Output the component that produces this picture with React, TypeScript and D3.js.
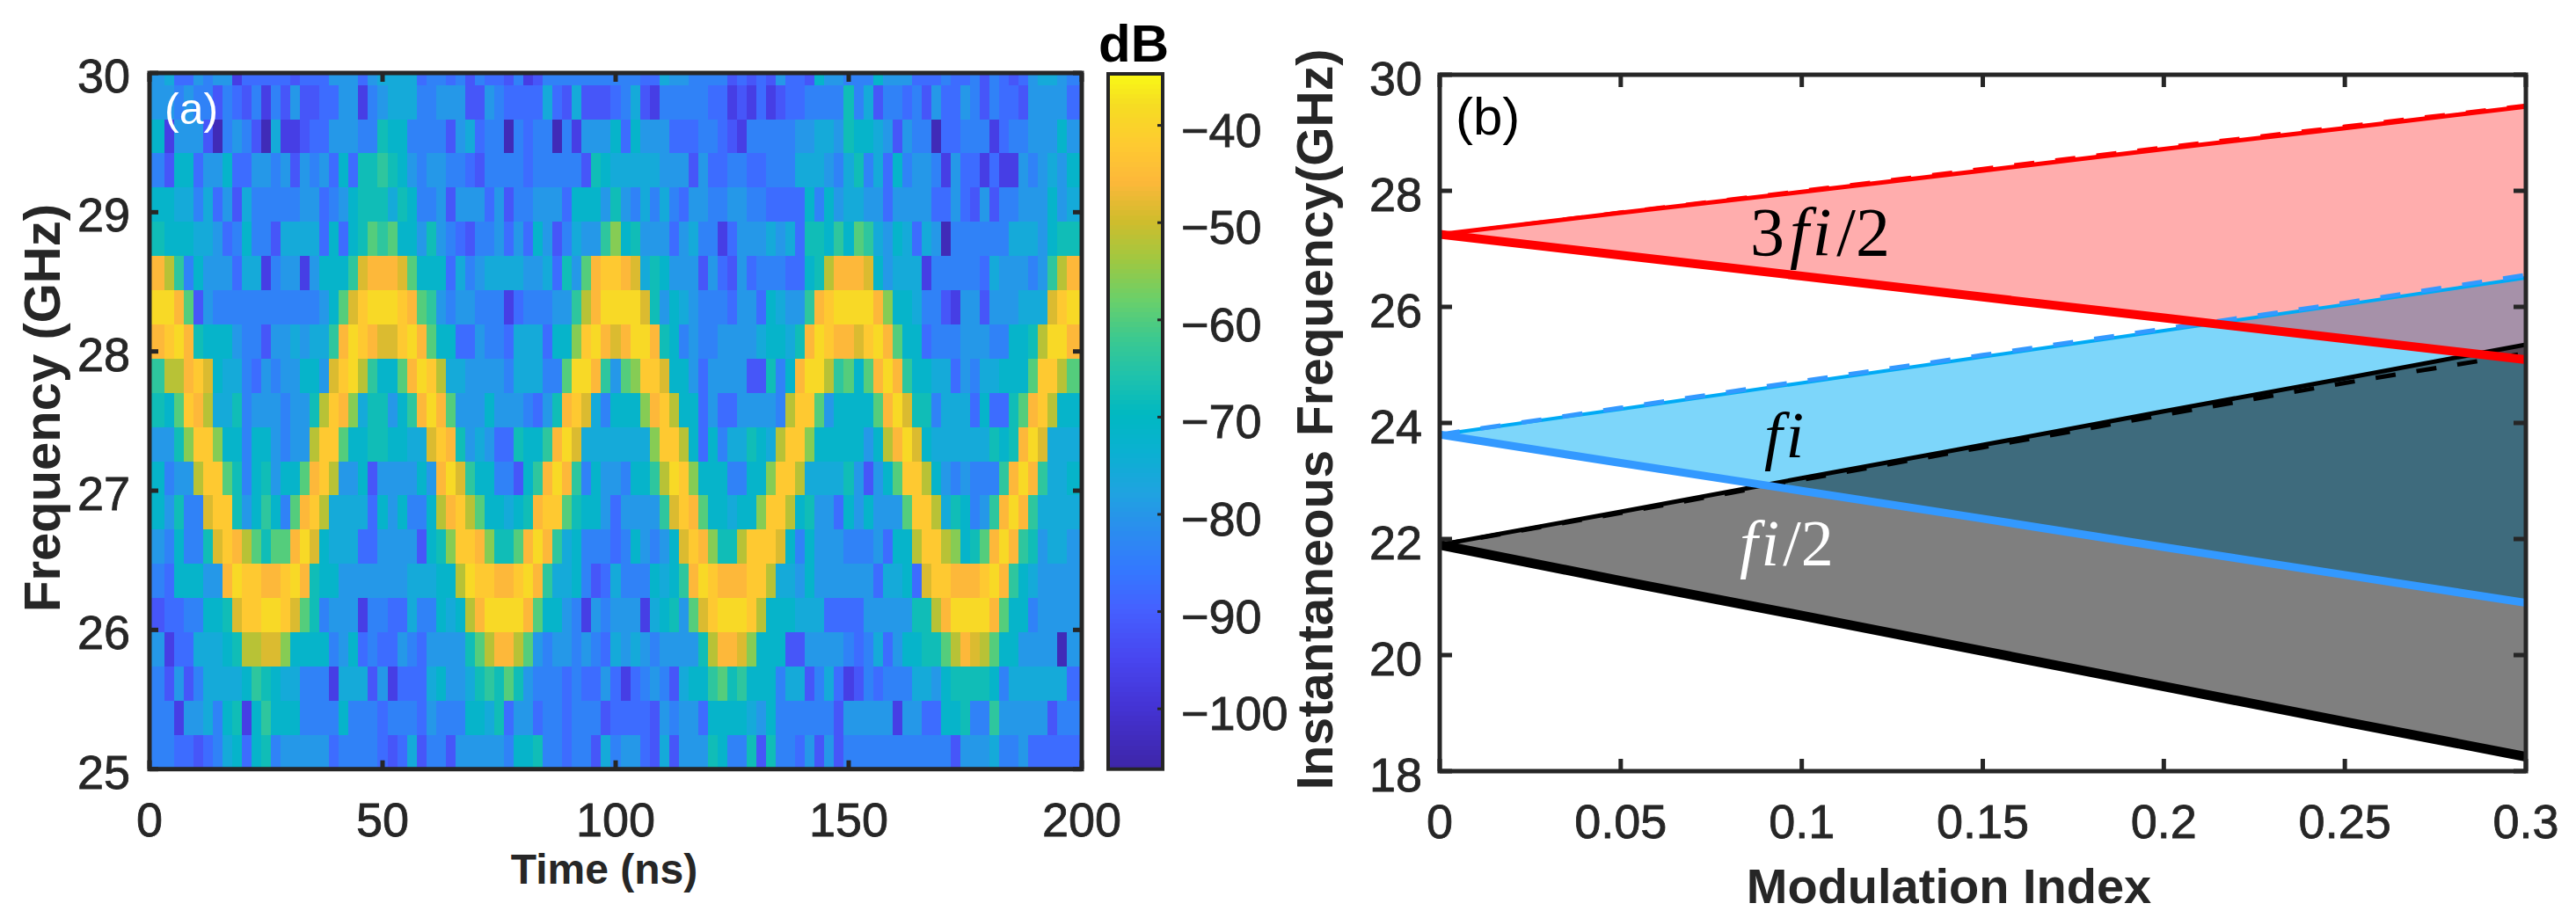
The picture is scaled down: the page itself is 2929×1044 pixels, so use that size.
import React from "react";
import * as d3 from "d3";

// ---------- panel (a) data: one string per frequency row, top to bottom ----------
const heatRows: string[] = [
  "563354551333332333555356666344342433241244444446" + "444336554444232325332755444755533343342432356654",
  "554544243241425223355145666445552254333363262224" + "346214444433121312334444846244342533542433255553",
  "715552045420611233555448774444256344043440415557" + "737555333443214444455665877652544033444134455575",
  "427735573355452545373889875455443244443444442873" + "666665552533443344466654684637455415331311545657",
  "776646352644444553457888687445255535244555377757" + "854646435544554433337475665535555335325244555756",
  "87776653474426666373" + "78a9a77585" + "4324453537" + "5246559b" + "b785553564413555656388797a96576365044444" + "46665788",
  "ec947555366145515777" + "9deeeda777" + "3645666655" + "6385aeff" + "fed68755525325344433" + "78ceeed756" + "6614444436" + "555459ce",
  "ggea254444444444457a" + "dfgggfea95" + "4554441344" + "4559cegg" + "gggd8576544435537655" + "9efggggeb7" + "7644215525" + "55666dfg",
  "efge877754425565669e" + "gfeddfgea7" + "7335443666" + "377bfged" + "degge874544555567768" + "egfeedfgea" + "7734445554" + "4778cgge",
  "9ccefd766435455775df" + "gc977aegfc" + "6655554666" + "44agge98" + "5abffd7753555522847e" + "ggc9a7aege" + "9776635466" + "777affca",
  "87afec66845554558cfe" + "b688579ege" + "a555755543" + "58efd646" + "777befc77353355554cf" + "fa57777aeg" + "d884666373" + "38aefc77",
  "558bffb774775455cffa" + "77887766df" + "e856533877" + "9egd6663" + "6666bffc737466876cff" + "b7777757ce" + "gd76666668" + "78egd666",
  "7455cffa8478577aefc5" + "572555575e" + "gd97744279" + "ege94754" + "54779cgfb7774477bffc" + "666685257a" + "ffc7545444" + "9ege9667",
  "75844dff857974aefc66" + "663757447c" + "efca77678e" + "ffa87753" + "355559dfea77677bffc7" + "8553757555" + "affc687459" + "ege96666",
  "547448dfeca8aaegd766" + "6335555278" + "bffeb88aeg" + "e9674446" + "3475457dfeb88cfffd74" + "7555444537" + "7cffcb78ae" + "ge985665",
  "4377755egffeefge8775" + "5555556667" + "7cgffeefge" + "96674236" + "64447679egfeeeffc665" + "7555555366" + "73dffeeefg" + "e9765555",
  "23344778dffggfda8455" + "5144336447" + "67ceggggea" + "77541544" + "55516785adfgggfc7776" + "6633335555" + "588cegggge" + "a7745555",
  "513366678ccddb777745" + "7343354355" + "558aceeca5" + "45545435" + "6565455558ceedb77722" + "5555434635" + "7788acedca" + "77555505",
  "42524666679876644416" + "6625133367" + "556898a854" + "44343353" + "31345426779a89777466" + "2463124344" + "4665788887" + "46666663",
  "44155647817977744447" + "4443444354" + "4477683553" + "44344424" + "33332545537777657444" + "4442555551" + "5533778449" + "55555244",
  "44332346737845555534" + "4443236244" + "2555554778" + "44344264" + "45532625558744828443" + "5252444444" + "4444425556" + "44533333",
];
const levelChars = "0123456789abcdefgh";
const levelDb = [-104, -97, -92, -88, -84, -80, -76, -72, -68, -64, -60, -56, -52, -49, -46, -42.5, -39, -36];
const timeTicks = [0, 50, 100, 150, 200];
const freqTicks = [25, 26, 27, 28, 29, 30];
const cbarTicks = [-40, -50, -60, -70, -80, -90, -100];
const colorDb = [-106.2, -100, -95, -90, -86, -82, -78, -74, -70, -66, -62, -58, -54, -50, -46, -42, -38, -34.7];
const colorHex = ["#3e26a8", "#4433d4", "#4846f0", "#4560ff", "#3478ff", "#2b8cef", "#1fa3e0", "#0bb0d2", "#00b8c2", "#1fc2ac", "#3cc98f", "#6cd068", "#a0c840", "#d0bc2c", "#fdb83a", "#fecb30", "#f6dd22", "#f9fb15"];

// ---------- panel (b) data ----------
const modIndex = [0, 0.05, 0.1, 0.15, 0.2, 0.25, 0.3];
const redUpper = [27.25, 27.62, 27.98, 28.35, 28.72, 29.08, 29.45];
const redUpperDash = [27.25, 27.64, 28.01, 28.39, 28.76, 29.12, 29.48];
const redLower = [27.25, 26.89, 26.53, 26.17, 25.81, 25.45, 25.09];
const blueUpper = [23.8, 24.24, 24.69, 25.14, 25.59, 26.04, 26.5];
const blueUpperDash = [23.8, 24.26, 24.72, 25.17, 25.62, 26.07, 26.55];
const blueLower = [23.8, 23.31, 22.83, 22.35, 21.86, 21.38, 20.9];
const blackUpper = [21.9, 22.47, 23.05, 23.62, 24.2, 24.77, 25.35];
const blackUpperDash = [21.9, 22.45, 23.02, 23.58, 24.14, 24.69, 25.2];
const blackLower = [21.9, 21.28, 20.68, 20.07, 19.46, 18.85, 18.25];
const modTicks = [0, 0.05, 0.1, 0.15, 0.2, 0.25, 0.3];
const modLabels = ["0", "0.05", "0.1", "0.15", "0.2", "0.25", "0.3"];
const instTicks = [18, 20, 22, 24, 26, 28, 30];

const INK = "#262626";
const SANS = "'Liberation Sans', Arial, sans-serif";
const SERIF = "'Liberation Serif', 'Times New Roman', serif";

const colorOf = d3.scaleLinear<string>().domain(colorDb).range(colorHex).interpolate(d3.interpolateRgb).clamp(true);

const ax = { l: 170, r: 1230, t: 83, b: 874.7 };
const xA = d3.scaleLinear().domain([0, 200]).range([ax.l, ax.r]);
const yA = d3.scaleLinear().domain([25, 30]).range([ax.b, ax.t]);
const cb = { l: 1260, r: 1322, t: 84, b: 874.7 };
const yC = d3.scaleLinear().domain([-106.2, -34.7]).range([cb.b, cb.t]);
const bx = { l: 1637, r: 2872, t: 85, b: 877 };
const xB = d3.scaleLinear().domain([0, 0.3]).range([bx.l, bx.r]);
const yB = d3.scaleLinear().domain([18, 30]).range([bx.b, bx.t]);

const tStep = 200 / 96;
const fStep = 0.2457;

// column j (0..96) of a row string
function charAt(row: string, j: number): string {
  if (j === 0) return row[0];
  if (j <= 47) return row[j - 1];
  if (j <= 95) return row[j];
  return row[95];
}

function lineOf(vals: number[]): string {
  return d3.line<number>().x((_, i) => xB(modIndex[i])).y((v) => yB(v))(vals) as string;
}
function bandOf(up: number[], lo: number[]): string {
  return d3
    .area<number>()
    .x((_, i) => xB(modIndex[i]))
    .y0((_, i) => yB(lo[i]))
    .y1((v) => yB(v))(up) as string;
}

const Cells: React.FC = () => (
  <g clipPath="url(#clipA)" shapeRendering="crispEdges">
    {heatRows.map((row, t) => {
      const f0 = 25 + (20 - t) * fStep;
      const y1 = yA(f0 + fStep);
      const y0 = yA(f0);
      return d3.range(97).map((j) => {
        const db = levelDb[levelChars.indexOf(charAt(row, j))];
        const x0 = xA((j - 0.5) * tStep);
        const x1 = xA((j + 0.5) * tStep);
        return <rect key={t + "-" + j} x={x0} y={y1} width={x1 - x0 + 0.4} height={y0 - y1 + 0.4} fill={colorOf(db)} />;
      });
    })}
  </g>
);

export default function App() {
  const cbSteps = d3.range(-106.2, -34.7, 0.5);
  return (
    <svg width={2929} height={1044} viewBox="0 0 2929 1044" style={{ position: "absolute", left: 0, top: 0, display: "block", background: "#fff" }}>
      <defs>
        <clipPath id="clipA"><rect x={ax.l} y={ax.t} width={ax.r - ax.l} height={ax.b - ax.t} /></clipPath>
        <clipPath id="clipB"><rect x={bx.l} y={bx.t} width={bx.r - bx.l} height={bx.b - bx.t} /></clipPath>
      </defs>

      {/* panel (a) */}
      <Cells />
      <rect x={ax.l} y={ax.t} width={ax.r - ax.l} height={ax.b - ax.t} fill="none" stroke={INK} strokeWidth={5} />
      {timeTicks.map((t) => (
        <g key={t}>
          <line x1={xA(t)} x2={xA(t)} y1={ax.b} y2={ax.b - 10} stroke={INK} strokeWidth={5} />
          <line x1={xA(t)} x2={xA(t)} y1={ax.t} y2={ax.t + 10} stroke={INK} strokeWidth={5} />
          <text x={xA(t)} y={951} textAnchor="middle" fontFamily={SANS} fontSize={54} fill={INK} stroke={INK} strokeWidth={0.8}>{t}</text>
        </g>
      ))}
      {freqTicks.map((f) => (
        <g key={f}>
          <line x1={ax.l} x2={ax.l + 10} y1={yA(f)} y2={yA(f)} stroke={INK} strokeWidth={5} />
          <line x1={ax.r} x2={ax.r - 10} y1={yA(f)} y2={yA(f)} stroke={INK} strokeWidth={5} />
          <text x={148} y={yA(f) + 22} textAnchor="end" fontFamily={SANS} fontSize={54} fill={INK} stroke={INK} strokeWidth={0.8}>{f}</text>
        </g>
      ))}
      <text x={187} y={141} fontFamily={SANS} fontSize={50} fill="#fff">(a)</text>
      <text transform={`translate(68,${464}) rotate(-90)`} textAnchor="middle" fontFamily={SANS} fontWeight="bold" fontSize={58} fill={INK}>Frequency (GHz)</text>
      <text x={687} y={1005} textAnchor="middle" fontFamily={SANS} fontWeight="bold" fontSize={48} fill={INK}>Time (ns)</text>

      {/* colour bar */}
      <g shapeRendering="crispEdges">
        {cbSteps.map((d) => (
          <rect key={d} x={cb.l} y={yC(d + 0.5)} width={cb.r - cb.l} height={yC(d) - yC(d + 0.5) + 0.5} fill={colorOf(d)} />
        ))}
      </g>
      <rect x={cb.l} y={cb.t} width={cb.r - cb.l} height={cb.b - cb.t} fill="none" stroke={INK} strokeWidth={4} />
      {cbarTicks.map((d) => (
        <g key={d}>
          <line x1={cb.r - 6} x2={cb.r} y1={yC(d)} y2={yC(d)} stroke={INK} strokeWidth={3} />
          <text x={1343} y={yC(d) + 24} fontFamily={SANS} fontSize={54} fill={INK} stroke={INK} strokeWidth={0.8}>{"\u2212" + Math.abs(d)}</text>
        </g>
      ))}
      <text x={1249} y={70} fontFamily={SANS} fontWeight="bold" fontSize={60} fill="#000">dB</text>

      {/* panel (b) */}
      <g clipPath="url(#clipB)">
        <path d={bandOf(blueUpper, blueLower)} fill="#7dd6fa" />
        <path d={bandOf(redUpper, redLower)} fill="#ff0000" fillOpacity={0.32} />
        <path d={bandOf(blackUpper, blackLower)} fill="#000" fillOpacity={0.5} />
        <path d={lineOf(blackUpper)} fill="none" stroke="#000" strokeWidth={5} />
        <path d={lineOf(blackUpperDash)} fill="none" stroke="#000" strokeWidth={5} strokeDasharray="23 24" />
        <path d={lineOf(blackLower)} fill="none" stroke="#000" strokeWidth={11} />
        <path d={lineOf(blueUpper)} fill="none" stroke="#00aaf5" strokeWidth={4} />
        <path d={lineOf(blueUpperDash)} fill="none" stroke="#3399ff" strokeWidth={5} strokeDasharray="23 24" />
        <path d={lineOf(blueLower)} fill="none" stroke="#3399ff" strokeWidth={9} />
        <path d={lineOf(redUpper)} fill="none" stroke="#ff0000" strokeWidth={5} />
        <path d={lineOf(redUpperDash)} fill="none" stroke="#ff0000" strokeWidth={3} strokeDasharray="23 24" />
        <path d={lineOf(redLower)} fill="none" stroke="#ff0000" strokeWidth={10} />
      </g>
      <rect x={bx.l} y={bx.t} width={bx.r - bx.l} height={bx.b - bx.t} fill="none" stroke={INK} strokeWidth={5} />
      {modTicks.map((m, i) => (
        <g key={m}>
          <line x1={xB(m)} x2={xB(m)} y1={bx.b} y2={bx.b - 14} stroke={INK} strokeWidth={5} />
          <line x1={xB(m)} x2={xB(m)} y1={bx.t} y2={bx.t + 14} stroke={INK} strokeWidth={5} />
          <text x={xB(m)} y={953} textAnchor="middle" fontFamily={SANS} fontSize={54} fill={INK} stroke={INK} strokeWidth={0.8}>{modLabels[i]}</text>
        </g>
      ))}
      {instTicks.map((f) => (
        <g key={f}>
          <line x1={bx.l} x2={bx.l + 14} y1={yB(f)} y2={yB(f)} stroke={INK} strokeWidth={5} />
          <line x1={bx.r} x2={bx.r - 14} y1={yB(f)} y2={yB(f)} stroke={INK} strokeWidth={5} />
          <text x={1617} y={yB(f) + 23} textAnchor="end" fontFamily={SANS} fontSize={54} fill={INK} stroke={INK} strokeWidth={0.8}>{f}</text>
        </g>
      ))}
      <text x={1655} y={153} fontFamily={SANS} fontSize={60} fill="#000">(b)</text>
      <text transform={`translate(1515,${477}) rotate(-90)`} textAnchor="middle" fontFamily={SANS} fontWeight="bold" fontSize={57} fill={INK}>Instantaneous Frequency(GHz)</text>
      <text x={2216} y={1027} textAnchor="middle" fontFamily={SANS} fontWeight="bold" fontSize={56} fill={INK}>Modulation Index</text>

      <text x={1990} y={290} fontFamily={SERIF} fontSize={78} fill="#000">
        3<tspan fontStyle="italic" dx={6}>f</tspan><tspan fontStyle="italic" dx={4}>i</tspan><tspan dx={6}>/2</tspan>
      </text>
      <text x={2006} y={520} fontFamily={SERIF} fontSize={74} fill="#000">
        <tspan fontStyle="italic">f</tspan><tspan fontStyle="italic" dx={4}>i</tspan>
      </text>
      <text x={1978} y={643} fontFamily={SERIF} fontSize={74} fill="#fff">
        <tspan fontStyle="italic">f</tspan><tspan fontStyle="italic" dx={4}>i</tspan><tspan dx={4}>/2</tspan>
      </text>
    </svg>
  );
}
